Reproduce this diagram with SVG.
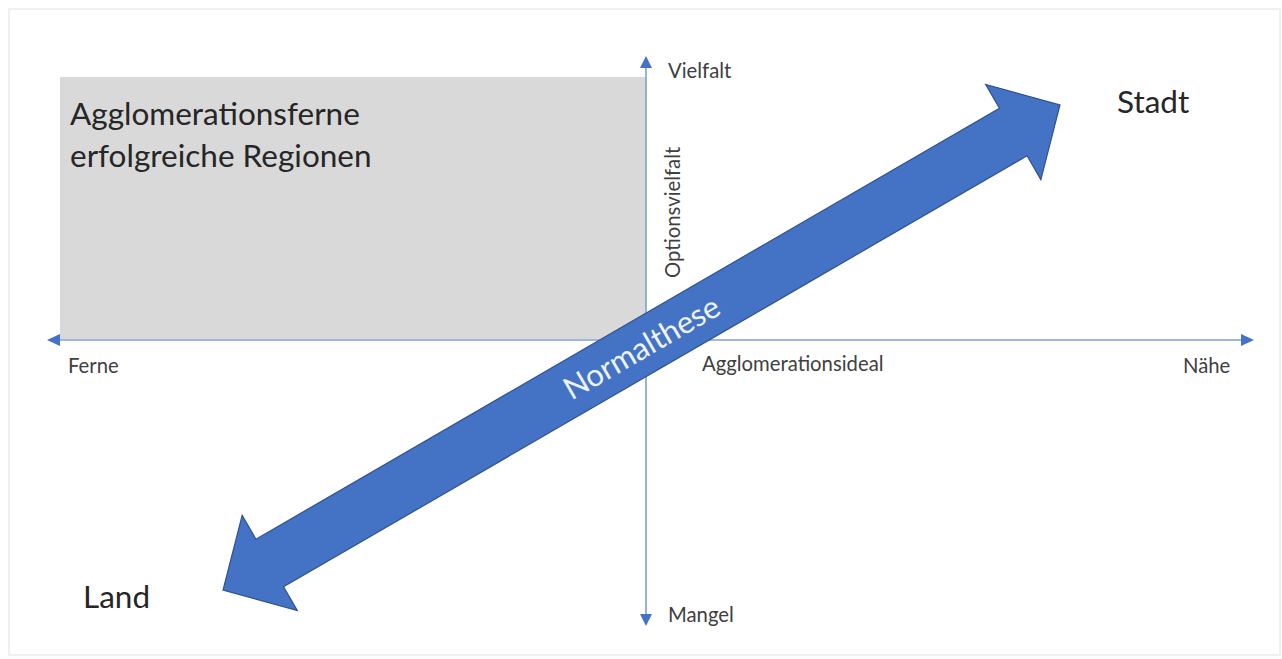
<svg xmlns="http://www.w3.org/2000/svg" width="1282" height="659" viewBox="0 0 1282 659">
<style>
.big{font-family:Lato,"Open Sans","Liberation Sans",sans-serif;font-size:31.5px;fill:#262626}
.small{font-family:Lato,"Open Sans","Liberation Sans",sans-serif;font-size:20.3px;fill:#404040}
.axis{stroke:#7f9fd4;stroke-width:1.6;fill:none}
</style>
<rect x="9" y="9" width="1271" height="646" fill="#fff" stroke="#ebebeb" stroke-width="1.5"/>
<g id="region">
<rect x="60" y="77" width="586" height="262" fill="#d9d9d9"/>
<text class="big" x="70" y="125">Agglomerationsferne</text>
<text class="big" x="70" y="167">erfolgreiche Regionen</text>
</g>
<g id="connectors">
<path class="axis" d="M646,66 L646,615"/>
<path d="M646,56 L640,68 L652,68 z" fill="#4472c4"/>
<path d="M646,626 L640,614 L652,614 z" fill="#4472c4"/>
<path class="axis" d="M58,340 L1243,340"/>
<path d="M47,340 L60,334 L60,346 z" fill="#4472c4"/>
<path d="M1254,340 L1241,334 L1241,346 z" fill="#4472c4"/>
</g>
<g id="axis-labels">
<text class="small" x="668" y="78">Vielfalt</text>
<text class="small" x="668" y="622">Mangel</text>
<text class="small" x="68" y="373">Ferne</text>
<text class="small" x="1183" y="373">Nähe</text>
<text class="small" x="702" y="371">Agglomerationsideal</text>
<text class="small" transform="translate(680,278) rotate(-90)">Optionsvielfalt</text>
</g>
<g id="normalthese" transform="translate(641.5,347.5) rotate(-30.1)">
<path d="M-483.7,0 L-429.7,-55 L-429.7,-27.5 L429.7,-27.5 L429.7,-55 L483.7,0 L429.7,55 L429.7,27.5 L-429.7,27.5 L-429.7,55 z" fill="#4472c4" stroke="#2f528f" stroke-width="1.2"/>
<text x="0" y="11" text-anchor="middle" style="font-family:Lato,'Open Sans','Liberation Sans',sans-serif;font-size:31px;fill:#eef3fb">Normalthese</text>
</g>
<g id="stadt"><text class="big" x="1117" y="113">Stadt</text></g>
<g id="land"><text class="big" x="83" y="608">Land</text></g>
</svg>
